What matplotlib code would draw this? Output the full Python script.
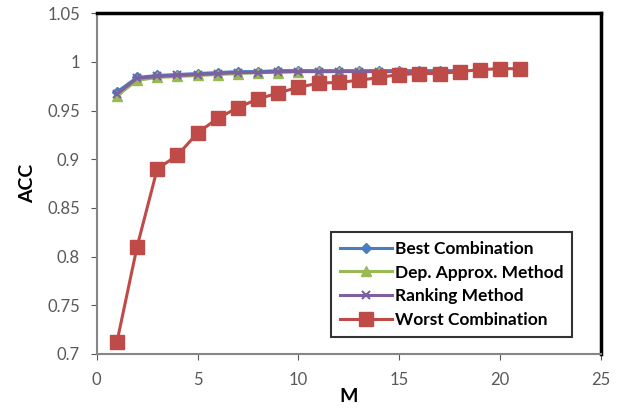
import matplotlib
matplotlib.use("Agg")
import matplotlib.pyplot as plt

# M values for each series
m_methods = list(range(1, 19))
m_worst = list(range(1, 22))

best_comb = [0.969, 0.984, 0.986, 0.987, 0.988, 0.989, 0.990, 0.990, 0.991, 0.991,
             0.991, 0.991, 0.991, 0.991, 0.991, 0.991, 0.991, 0.991]
dep_approx = [0.965, 0.981, 0.984, 0.985, 0.986, 0.987, 0.988, 0.989, 0.989, 0.990,
              0.990, 0.990, 0.990, 0.990, 0.990, 0.990, 0.990, 0.990]
ranking = [0.967, 0.983, 0.985, 0.986, 0.987, 0.988, 0.989, 0.989, 0.990, 0.990,
           0.990, 0.990, 0.990, 0.990, 0.990, 0.990, 0.990, 0.990]
worst_comb = [0.712, 0.810, 0.890, 0.904, 0.927, 0.942, 0.953, 0.962, 0.968, 0.974,
              0.978, 0.979, 0.981, 0.984, 0.987, 0.988, 0.988, 0.990, 0.992, 0.993, 0.993]

labels = ["Best Combination", "Dep. Approx. Method", "Ranking Method", "Worst Combination"]
xticks = [0, 5, 10, 15, 20, 25]
yticks = [0.7, 0.75, 0.8, 0.85, 0.9, 0.95, 1, 1.05]
ytick_labels = ["0.7", "0.75", "0.8", "0.85", "0.9", "0.95", "1", "1.05"]

plt.rcParams['font.family'] = ['Lato', 'DejaVu Sans']

fig = plt.figure(figsize=(6.28, 4.12), dpi=100)
ax = fig.add_axes([0.154, 0.141, 0.803, 0.827])

ax.plot(m_methods, best_comb, color="#4a7ebb", lw=2.2, marker="D", ms=5, label=labels[0])
ax.plot(m_methods, dep_approx, color="#98b954", lw=2.2, marker="^", ms=7, label=labels[1])
ax.plot(m_methods, ranking, color="#7d60a0", lw=2.2, marker="x", ms=6, mew=1.5, label=labels[2])
ax.plot(m_worst, worst_comb, color="#be4b48", lw=2.2, marker="s", ms=10.5, label=labels[3])

ax.set_xlim(0, 25)
ax.set_ylim(0.7, 1.05)
ax.set_xticks(xticks)
ax.set_yticks(yticks)
ax.set_yticklabels(ytick_labels)
ax.tick_params(axis="both", colors="#595959", labelsize=12, length=4, direction="out")
ax.tick_params(axis="y", pad=8)
ax.tick_params(axis="x", pad=9)

for side in ["left", "bottom"]:
    ax.spines[side].set_color("#868686")
    ax.spines[side].set_linewidth(1.5)
for side in ["top", "right"]:
    ax.spines[side].set_color("black")
    ax.spines[side].set_linewidth(2.5)

ax.set_xlabel("M", fontsize=14, fontweight="bold", labelpad=0)
ax.set_ylabel("ACC", fontsize=14, fontweight="bold", labelpad=8)

leg = ax.legend(loc="lower right", bbox_to_anchor=(0.942, 0.05),
                prop={"weight": "bold", "size": 12.5}, frameon=True, fancybox=False,
                handlelength=3.0, handletextpad=0.15, borderpad=0.5, labelspacing=0.45,
                borderaxespad=0)
leg.get_frame().set_edgecolor("black")
leg.get_frame().set_linewidth(1.5)

fig.savefig("out.png", dpi=100)
